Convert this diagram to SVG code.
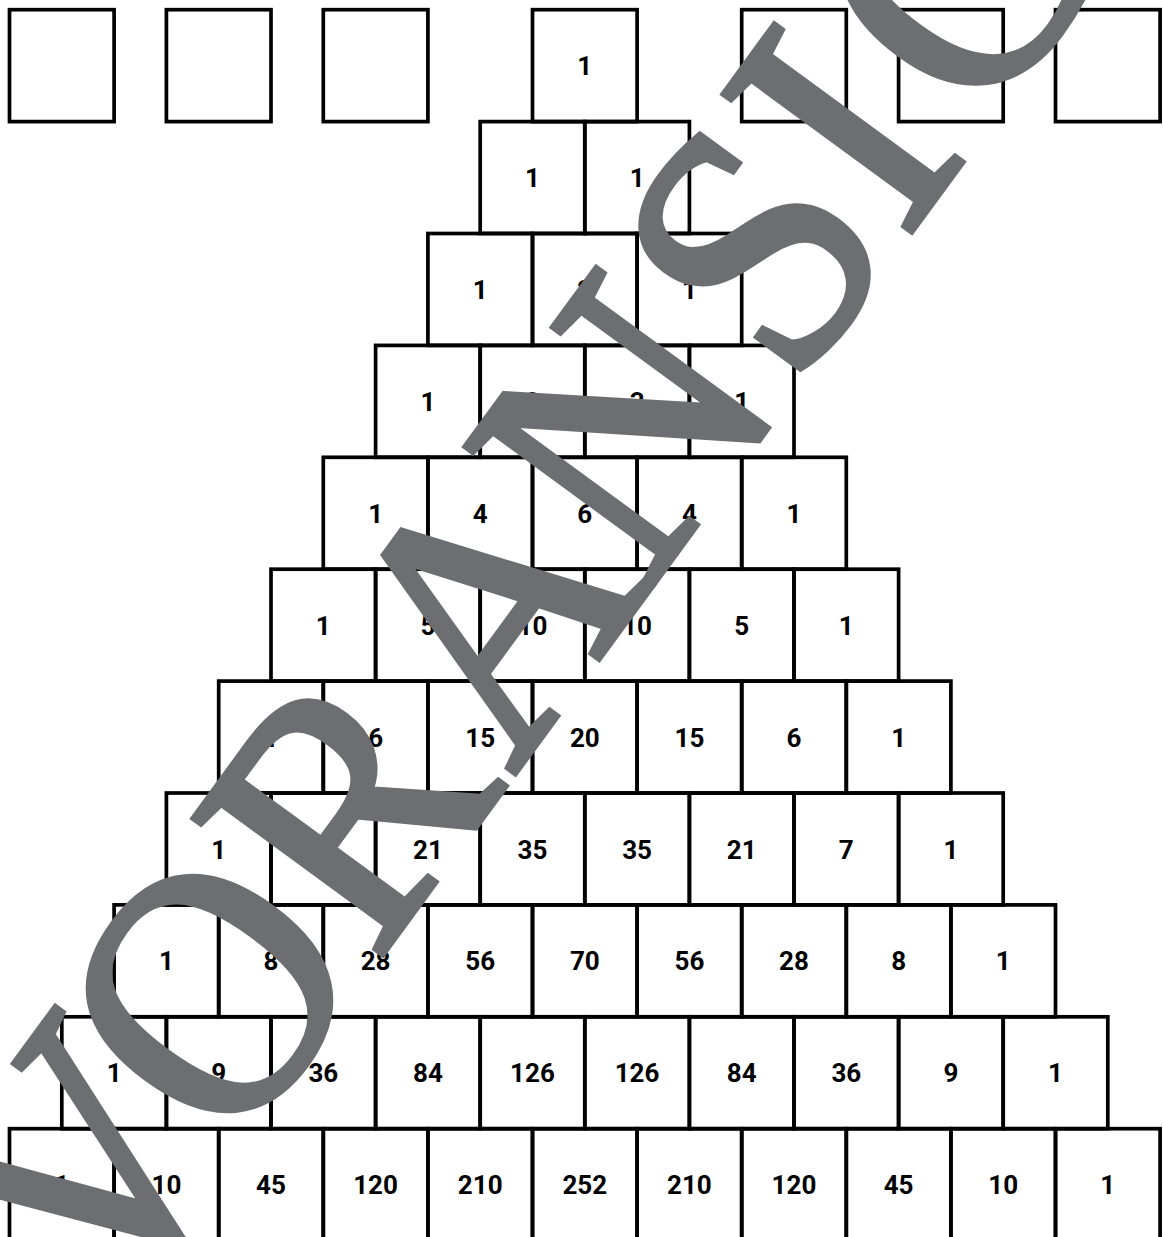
<svg xmlns="http://www.w3.org/2000/svg" width="1163" height="1237" viewBox="0 0 1163 1237">
<style>
.c{fill:none;stroke:#000;stroke-width:3.7}
.t{font-family:Roboto,"Liberation Sans",Arial,sans-serif;font-weight:700;font-size:26px;text-anchor:middle;fill:#000}
.wm{font-family:"Liberation Serif","Times New Roman",serif;font-size:356px;text-anchor:middle;fill:#6d6e71;stroke:#6d6e71;stroke-width:6}
</style>
<defs>
<rect id="b" class="c" width="104.6" height="111.9"/>
</defs>
<rect width="1163" height="1237" fill="#fff"/>
<g id="empty-boxes">
<g id="e1" transform="translate(9.5,9.7)"><use href="#b"/></g>
<g id="e2" transform="translate(166.4,9.7)"><use href="#b"/></g>
<g id="e3" transform="translate(323.3,9.7)"><use href="#b"/></g>
<g id="e4" transform="translate(741.7,9.7)"><use href="#b"/></g>
<g id="e5" transform="translate(898.6,9.7)"><use href="#b"/></g>
<g id="e6" transform="translate(1055.5,9.7)"><use href="#b"/></g>
</g>
<g id="r0">
<g id="r0c0" transform="translate(532.5,9.7)"><use href="#b"/><text class="t" x="52.3" y="65.5">1</text></g>
</g>
<g id="r1">
<g id="r1c0" transform="translate(480.2,121.6)"><use href="#b"/><text class="t" x="52.3" y="65.5">1</text></g>
<g id="r1c1" transform="translate(584.8,121.6)"><use href="#b"/><text class="t" x="52.3" y="65.5">1</text></g>
</g>
<g id="r2">
<g id="r2c0" transform="translate(427.9,233.5)"><use href="#b"/><text class="t" x="52.3" y="65.5">1</text></g>
<g id="r2c1" transform="translate(532.5,233.5)"><use href="#b"/><text class="t" x="52.3" y="65.5">2</text></g>
<g id="r2c2" transform="translate(637.1,233.5)"><use href="#b"/><text class="t" x="52.3" y="65.5">1</text></g>
</g>
<g id="r3">
<g id="r3c0" transform="translate(375.6,345.4)"><use href="#b"/><text class="t" x="52.3" y="65.5">1</text></g>
<g id="r3c1" transform="translate(480.2,345.4)"><use href="#b"/><text class="t" x="52.3" y="65.5">3</text></g>
<g id="r3c2" transform="translate(584.8,345.4)"><use href="#b"/><text class="t" x="52.3" y="65.5">3</text></g>
<g id="r3c3" transform="translate(689.4,345.4)"><use href="#b"/><text class="t" x="52.3" y="65.5">1</text></g>
</g>
<g id="r4">
<g id="r4c0" transform="translate(323.3,457.3)"><use href="#b"/><text class="t" x="52.3" y="65.5">1</text></g>
<g id="r4c1" transform="translate(427.9,457.3)"><use href="#b"/><text class="t" x="52.3" y="65.5">4</text></g>
<g id="r4c2" transform="translate(532.5,457.3)"><use href="#b"/><text class="t" x="52.3" y="65.5">6</text></g>
<g id="r4c3" transform="translate(637.1,457.3)"><use href="#b"/><text class="t" x="52.3" y="65.5">4</text></g>
<g id="r4c4" transform="translate(741.7,457.3)"><use href="#b"/><text class="t" x="52.3" y="65.5">1</text></g>
</g>
<g id="r5">
<g id="r5c0" transform="translate(271,569.2)"><use href="#b"/><text class="t" x="52.3" y="65.5">1</text></g>
<g id="r5c1" transform="translate(375.6,569.2)"><use href="#b"/><text class="t" x="52.3" y="65.5">5</text></g>
<g id="r5c2" transform="translate(480.2,569.2)"><use href="#b"/><text class="t" x="52.3" y="65.5">10</text></g>
<g id="r5c3" transform="translate(584.8,569.2)"><use href="#b"/><text class="t" x="52.3" y="65.5">10</text></g>
<g id="r5c4" transform="translate(689.4,569.2)"><use href="#b"/><text class="t" x="52.3" y="65.5">5</text></g>
<g id="r5c5" transform="translate(794,569.2)"><use href="#b"/><text class="t" x="52.3" y="65.5">1</text></g>
</g>
<g id="r6">
<g id="r6c0" transform="translate(218.7,681.1)"><use href="#b"/><text class="t" x="52.3" y="65.5">1</text></g>
<g id="r6c1" transform="translate(323.3,681.1)"><use href="#b"/><text class="t" x="52.3" y="65.5">6</text></g>
<g id="r6c2" transform="translate(427.9,681.1)"><use href="#b"/><text class="t" x="52.3" y="65.5">15</text></g>
<g id="r6c3" transform="translate(532.5,681.1)"><use href="#b"/><text class="t" x="52.3" y="65.5">20</text></g>
<g id="r6c4" transform="translate(637.1,681.1)"><use href="#b"/><text class="t" x="52.3" y="65.5">15</text></g>
<g id="r6c5" transform="translate(741.7,681.1)"><use href="#b"/><text class="t" x="52.3" y="65.5">6</text></g>
<g id="r6c6" transform="translate(846.3,681.1)"><use href="#b"/><text class="t" x="52.3" y="65.5">1</text></g>
</g>
<g id="r7">
<g id="r7c0" transform="translate(166.4,793)"><use href="#b"/><text class="t" x="52.3" y="65.5">1</text></g>
<g id="r7c1" transform="translate(271,793)"><use href="#b"/><text class="t" x="52.3" y="65.5">7</text></g>
<g id="r7c2" transform="translate(375.6,793)"><use href="#b"/><text class="t" x="52.3" y="65.5">21</text></g>
<g id="r7c3" transform="translate(480.2,793)"><use href="#b"/><text class="t" x="52.3" y="65.5">35</text></g>
<g id="r7c4" transform="translate(584.8,793)"><use href="#b"/><text class="t" x="52.3" y="65.5">35</text></g>
<g id="r7c5" transform="translate(689.4,793)"><use href="#b"/><text class="t" x="52.3" y="65.5">21</text></g>
<g id="r7c6" transform="translate(794,793)"><use href="#b"/><text class="t" x="52.3" y="65.5">7</text></g>
<g id="r7c7" transform="translate(898.6,793)"><use href="#b"/><text class="t" x="52.3" y="65.5">1</text></g>
</g>
<g id="r8">
<g id="r8c0" transform="translate(114.1,904.9)"><use href="#b"/><text class="t" x="52.3" y="65.5">1</text></g>
<g id="r8c1" transform="translate(218.7,904.9)"><use href="#b"/><text class="t" x="52.3" y="65.5">8</text></g>
<g id="r8c2" transform="translate(323.3,904.9)"><use href="#b"/><text class="t" x="52.3" y="65.5">28</text></g>
<g id="r8c3" transform="translate(427.9,904.9)"><use href="#b"/><text class="t" x="52.3" y="65.5">56</text></g>
<g id="r8c4" transform="translate(532.5,904.9)"><use href="#b"/><text class="t" x="52.3" y="65.5">70</text></g>
<g id="r8c5" transform="translate(637.1,904.9)"><use href="#b"/><text class="t" x="52.3" y="65.5">56</text></g>
<g id="r8c6" transform="translate(741.7,904.9)"><use href="#b"/><text class="t" x="52.3" y="65.5">28</text></g>
<g id="r8c7" transform="translate(846.3,904.9)"><use href="#b"/><text class="t" x="52.3" y="65.5">8</text></g>
<g id="r8c8" transform="translate(950.9,904.9)"><use href="#b"/><text class="t" x="52.3" y="65.5">1</text></g>
</g>
<g id="r9">
<g id="r9c0" transform="translate(61.8,1016.8)"><use href="#b"/><text class="t" x="52.3" y="65.5">1</text></g>
<g id="r9c1" transform="translate(166.4,1016.8)"><use href="#b"/><text class="t" x="52.3" y="65.5">9</text></g>
<g id="r9c2" transform="translate(271,1016.8)"><use href="#b"/><text class="t" x="52.3" y="65.5">36</text></g>
<g id="r9c3" transform="translate(375.6,1016.8)"><use href="#b"/><text class="t" x="52.3" y="65.5">84</text></g>
<g id="r9c4" transform="translate(480.2,1016.8)"><use href="#b"/><text class="t" x="52.3" y="65.5">126</text></g>
<g id="r9c5" transform="translate(584.8,1016.8)"><use href="#b"/><text class="t" x="52.3" y="65.5">126</text></g>
<g id="r9c6" transform="translate(689.4,1016.8)"><use href="#b"/><text class="t" x="52.3" y="65.5">84</text></g>
<g id="r9c7" transform="translate(794,1016.8)"><use href="#b"/><text class="t" x="52.3" y="65.5">36</text></g>
<g id="r9c8" transform="translate(898.6,1016.8)"><use href="#b"/><text class="t" x="52.3" y="65.5">9</text></g>
<g id="r9c9" transform="translate(1003.2,1016.8)"><use href="#b"/><text class="t" x="52.3" y="65.5">1</text></g>
</g>
<g id="r10">
<g id="r10c0" transform="translate(9.5,1128.7)"><use href="#b"/><text class="t" x="52.3" y="65.5">1</text></g>
<g id="r10c1" transform="translate(114.1,1128.7)"><use href="#b"/><text class="t" x="52.3" y="65.5">10</text></g>
<g id="r10c2" transform="translate(218.7,1128.7)"><use href="#b"/><text class="t" x="52.3" y="65.5">45</text></g>
<g id="r10c3" transform="translate(323.3,1128.7)"><use href="#b"/><text class="t" x="52.3" y="65.5">120</text></g>
<g id="r10c4" transform="translate(427.9,1128.7)"><use href="#b"/><text class="t" x="52.3" y="65.5">210</text></g>
<g id="r10c5" transform="translate(532.5,1128.7)"><use href="#b"/><text class="t" x="52.3" y="65.5">252</text></g>
<g id="r10c6" transform="translate(637.1,1128.7)"><use href="#b"/><text class="t" x="52.3" y="65.5">210</text></g>
<g id="r10c7" transform="translate(741.7,1128.7)"><use href="#b"/><text class="t" x="52.3" y="65.5">120</text></g>
<g id="r10c8" transform="translate(846.3,1128.7)"><use href="#b"/><text class="t" x="52.3" y="65.5">45</text></g>
<g id="r10c9" transform="translate(950.9,1128.7)"><use href="#b"/><text class="t" x="52.3" y="65.5">10</text></g>
<g id="r10c10" transform="translate(1055.5,1128.7)"><use href="#b"/><text class="t" x="52.3" y="65.5">1</text></g>
</g>
<g id="connectors"/>
<g id="watermark">
<text class="wm" transform="translate(937,197) rotate(-53.8) scale(0.93,1)" x="-1387 -1153 -903 -643 -398 -161 0 204 456 697" y="0">VORANSICHT</text>
</g>
</svg>
